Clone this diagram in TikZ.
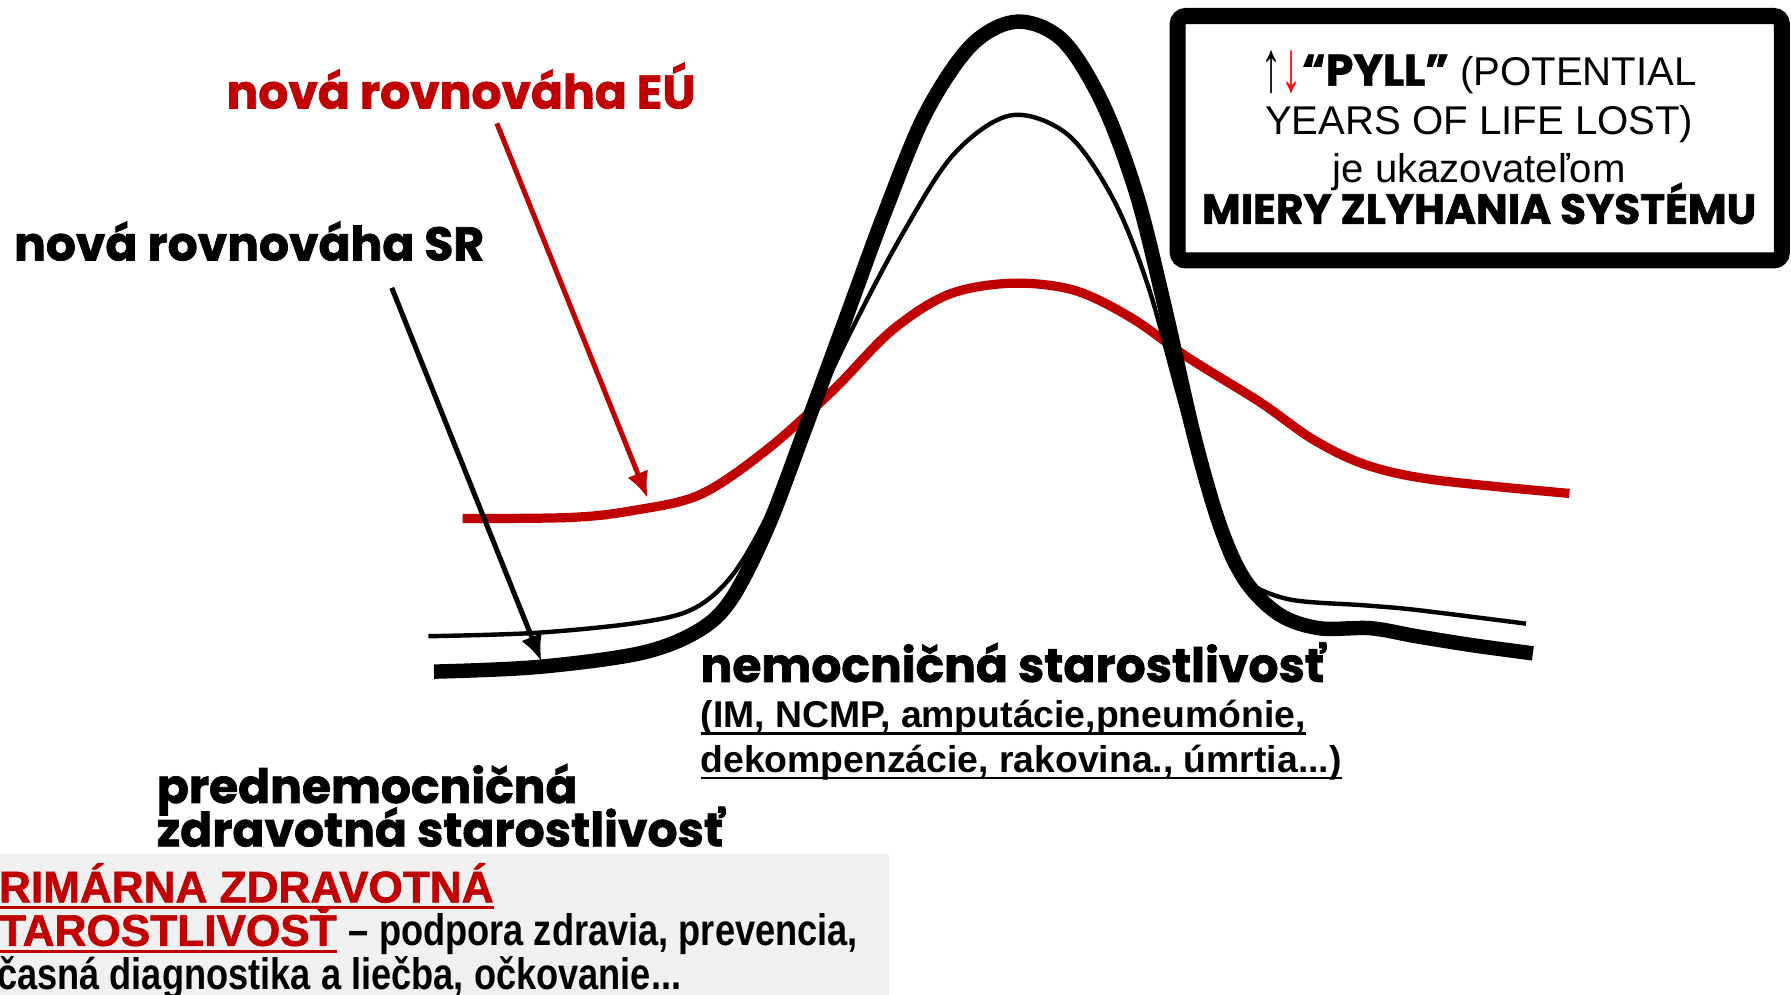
\documentclass[tikz,border=0pt]{standalone}
\usepackage{graphicx}
\usepackage{fontspec}
\setmainfont{Liberation Sans}
\newfontfamily\headfont[BoldFeatures={FakeBold=1.5}]{Poppins}
\newfontfamily\narrowfont[FakeStretch=0.82]{Liberation Sans}
\newfontfamily\heavyfont[BoldFeatures={FakeBold=1.5}]{Liberation Sans}
\usetikzlibrary{arrows.meta}
\definecolor{eured}{RGB}{192,0,0}
\definecolor{panelgray}{RGB}{240,240,240}
\newcommand\thickul[2][1.2pt]{\setbox0\hbox{#2}\rlap{\rule[-3.5pt]{\wd0}{#1}}\box0}
\newcommand\tallarrow[1]{\raisebox{-3pt}{\scalebox{1}[1.8]{#1}}}
\tikzset{
	headline/.style={inner sep=0pt,anchor=base west,font=\headfont\bfseries\fontsize{23.5}{21}\selectfont},
	plain/.style={inner sep=0pt,anchor=base west},
	srcurve/.style={line width=7.2pt,line join=round},
	oldcurve/.style={line width=2.2pt,line join=round},
	eucurve/.style={line width=4.6pt,eured,line join=round},
	pointer/.style={line width=2.5pt,-{Latex[length=13pt,width=11pt]}},
}
\begin{document}
\begin{tikzpicture}[x=0.02cm,y=-0.02cm]
	\useasboundingbox (0,0) rectangle (1568,871);
	\clip (0,0) rectangle (1568,871);

	\fill[panelgray] (0,748) rectangle (778,871);	%grey panel

	% curves
	\draw[eucurve] plot[smooth,tension=0.55] coordinates {(405,454) (500,453) (554,447) (613,433) (671,394) (729,342) (780,290) (830,258) (885,248) (940,254) (990,278) (1040,313) (1103,352) (1150,385) (1196,407) (1255,420) (1374,432)};
	\draw[oldcurve] plot[smooth,tension=0.55] coordinates {(375,557) (470,554) (560,545) (607,533) (640,505) (670,455) (705,375) (745,290) (790,205) (835,135) (885,101) (935,118) (975,175) (1005,250) (1030,340) (1055,430) (1075,490) (1092,510) (1130,525) (1195,530) (1240,534) (1336,546)};
	\draw[srcurve] plot[smooth,tension=0.55] coordinates {(380,588) (470,584) (560,572) (610,553) (640,525) (672,462) (705,375) (740,280) (775,185) (810,100) (850,40) (890,19) (930,35) (965,90) (995,170) (1020,270) (1045,380) (1068,460) (1090,508) (1120,538) (1155,550) (1200,550) (1240,557) (1290,565) (1342,572)};

	% labels
	\node[headline,eured] (eulbl) at (198,95) {nová rovnováha EÚ};
	\node[headline] (srlbl) at (12,228) {nová rovnováha SR};
	\node[headline] (hosplbl) at (613,597) {nemocničná starostlivosť};
	\node[plain,font=\bfseries\fontsize{18.6}{22}\selectfont] (hosp1) at (613,637) {\thickul{(IM, NCMP, amputácie,pneumónie,}};
	\node[plain,font=\bfseries\fontsize{18.6}{22}\selectfont] (hosp2) at (613,676) {\thickul{dekompenzácie, rakovina., úmrtia...)}};
	\node[headline] (pre1) at (137,703) {prednemocničná};
	\node[headline] (pre2) at (137,741) {zdravotná starostlivosť};

	% arrows
	\coordinate (eutail) at (435,108);
	\coordinate (eutip) at (567,436);
	\coordinate (srtail) at (343,252);
	\coordinate (srtip) at (474,579);
	\draw[pointer,eured] (eutail) -- (eutip);
	\draw[pointer] (srtail) -- (srtip);

	% PYLL box
	\node[draw,line width=8pt,rounded corners=4pt,minimum width=10.58cm,minimum height=4.28cm] (pyll) at (1295.5,121) {};
	\node[plain,anchor=base,font=\fontsize{20}{24}\selectfont] (pyll1) at (1295,75) {\tallarrow{↑}\textcolor{red}{\tallarrow{↓}}{\headfont\bfseries\fontsize{22}{24}\selectfont“PYLL”} (POTENTIAL};
	\node[plain,anchor=base,font=\fontsize{20}{24}\selectfont] (pyll2) at (1295,118) {YEARS OF LIFE LOST)};
	\node[plain,anchor=base,font=\fontsize{20}{24}\selectfont] (pyll3) at (1295,160) {je ukazovateľom};
	\node[plain,anchor=base,font=\headfont\bfseries\fontsize{21}{22}\selectfont] (pyll4) at (1295,196) {MIERY ZLYHANIA SYSTÉMU};

	% primary care panel
	\node[plain,eured,font=\heavyfont\bfseries\fontsize{22}{24}\selectfont] (prim1) at (-27,790) {\thickul[1.6pt]{PRIMÁRNA ZDRAVOTNÁ}};
	\node[plain,font=\heavyfont\bfseries\fontsize{22}{24}\selectfont] (prim2) at (-27,828) {\textcolor{eured}{\thickul[1.6pt]{STAROSTLIVOSŤ}} {\narrowfont\bfseries – podpora zdravia, prevencia,}};
	\node[plain,font=\narrowfont\bfseries\fontsize{22}{24}\selectfont] (prim3) at (-24,866) {Včasná diagnostika a liečba, očkovanie...};
\end{tikzpicture}
\end{document}
